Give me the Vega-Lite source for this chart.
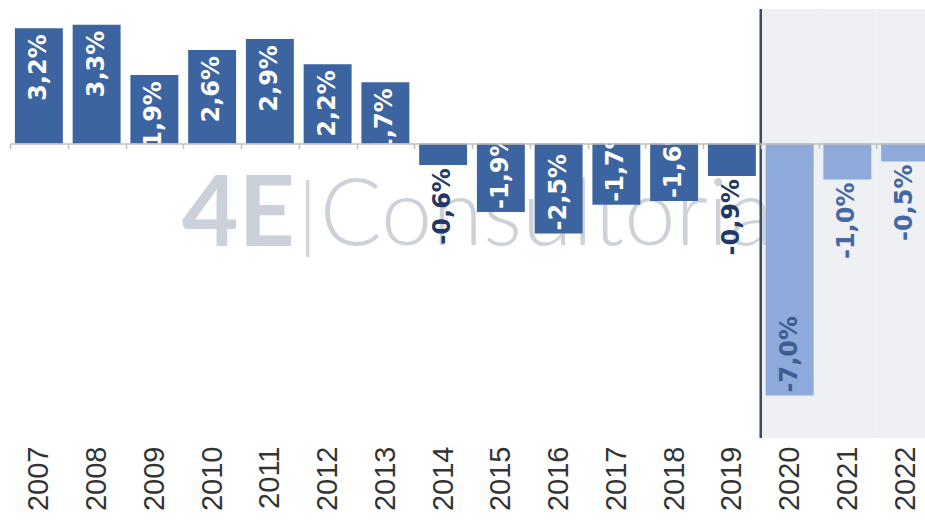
{
  "$schema": "https://vega.github.io/schema/vega-lite/v6.json",
  "width": 915,
  "height": 429,
  "autosize": {"type": "none"},
  "padding": {"left": 10, "top": 9, "right": 0, "bottom": 85},
  "background": "#ffffff",
  "config": {
    "view": {"stroke": null},
    "locale": {"number": {"decimal": ",", "thousands": ".", "grouping": [3], "currency": ["R$", ""], "minus": "-"}}
  },
  "data": {"values": [
    {"year": 2007, "v": 0.032},
    {"year": 2008, "v": 0.033},
    {"year": 2009, "v": 0.019},
    {"year": 2010, "v": 0.026},
    {"year": 2011, "v": 0.029},
    {"year": 2012, "v": 0.022},
    {"year": 2013, "v": 0.017},
    {"year": 2014, "v": -0.006},
    {"year": 2015, "v": -0.019},
    {"year": 2016, "v": -0.025},
    {"year": 2017, "v": -0.017},
    {"year": 2018, "v": -0.016},
    {"year": 2019, "v": -0.009},
    {"year": 2020, "v": -0.070},
    {"year": 2021, "v": -0.010},
    {"year": 2022, "v": -0.005}
  ]},
  "encoding": {
    "x": {
      "field": "year", "type": "ordinal", "title": null,
      "scale": {"range": [0, 924], "paddingInner": 0, "paddingOuter": 0},
      "axis": {
        "orient": "bottom", "offset": -294.5, "zindex": 1,
        "domainColor": "#bfbfbf", "domainWidth": 1.5,
        "tickBand": "extent", "tickColor": "#bfbfbf", "tickSize": 5, "tickWidth": 1.5,
        "labelAngle": -90, "labelPadding": 297.5,
        "labelFont": "Liberation Sans", "labelFontSize": 29, "labelColor": "#333333",
        "grid": false, "title": null
      }
    }
  },
  "layer": [
    {
      "transform": [{"filter": "datum.year >= 2020"}],
      "mark": {"type": "bar", "width": {"band": 1}, "color": "#eef0f4"},
      "encoding": {
        "y": {"datum": 0.03736, "type": "quantitative", "axis": null},
        "y2": {"datum": -0.0818}
      }
    },
    {
      "data": {"values": [{"year": 2011, "t": "4E"}]},
      "mark": {"type": "text", "align": "right", "baseline": "middle", "dx": 25, "font": "Lato", "fontWeight": "bold", "fontSize": 98, "color": "#cad1db"},
      "encoding": {
        "y": {"datum": -0.0205, "type": "quantitative", "axis": null},
        "text": {"field": "t"}
      }
    },
    {
      "data": {"values": [{"year": 2012, "t": "|"}]},
      "mark": {"type": "text", "align": "center", "baseline": "middle", "dx": -20, "font": "DejaVu Sans", "fontWeight": 200, "fontSize": 76, "color": "#d3d7de"},
      "encoding": {
        "y": {"datum": -0.0198, "type": "quantitative", "axis": null},
        "text": {"field": "t"}
      }
    },
    {
      "data": {"values": [{"year": 2012, "t": "Consultoria"}]},
      "mark": {"type": "text", "align": "left", "baseline": "middle", "dx": -8, "font": "Lato", "fontWeight": 300, "fontSize": 92, "color": "#cdd2da"},
      "encoding": {
        "y": {"datum": -0.0205, "type": "quantitative", "axis": null},
        "text": {"field": "t"}
      }
    },
    {
      "mark": {"type": "bar", "width": {"band": 0.83}},
      "encoding": {
        "y": {"field": "v", "type": "quantitative", "scale": {"domain": [-0.0818, 0.03736], "nice": false, "zero": false}, "axis": null},
        "color": {"condition": {"test": "datum.year >= 2020", "value": "#8eaadb"}, "value": "#3b64a0"}
      }
    },
    {
      "transform": [{"filter": "datum.year == 2020"}],
      "mark": {"type": "rule", "color": "#3d4a63", "strokeWidth": 2.5},
      "encoding": {
        "x": {"field": "year", "type": "ordinal", "bandPosition": 0, "title": null}
      }
    },
    {
      "transform": [{"filter": "datum.v > 0"}],
      "mark": {"type": "text", "angle": 270, "align": "right", "baseline": "middle", "dx": -6, "font": "DejaVu Sans", "fontWeight": "bold", "fontSize": 24, "color": "#ffffff"},
      "encoding": {
        "y": {"field": "v", "type": "quantitative", "axis": null},
        "text": {"field": "v", "type": "quantitative", "format": ".1%"}
      }
    },
    {
      "transform": [{"filter": "datum.v <= -0.015"}],
      "mark": {"type": "text", "angle": 270, "align": "left", "baseline": "middle", "dx": 3, "font": "DejaVu Sans", "fontWeight": "bold", "fontSize": 24},
      "encoding": {
        "y": {"field": "v", "type": "quantitative", "axis": null},
        "text": {"field": "v", "type": "quantitative", "format": ".1%"},
        "color": {"condition": {"test": "datum.year >= 2020", "value": "#3b5d92"}, "value": "#ffffff"}
      }
    },
    {
      "transform": [{"filter": "datum.v < 0 && datum.v > -0.015"}],
      "mark": {"type": "text", "angle": 270, "align": "right", "baseline": "middle", "dx": -3, "font": "DejaVu Sans", "fontWeight": "bold", "fontSize": 24},
      "encoding": {
        "y": {"field": "v", "type": "quantitative", "axis": null},
        "text": {"field": "v", "type": "quantitative", "format": ".1%"},
        "color": {"condition": {"test": "datum.year >= 2020", "value": "#4468a3"}, "value": "#1f3864"}
      }
    }
  ]
}
